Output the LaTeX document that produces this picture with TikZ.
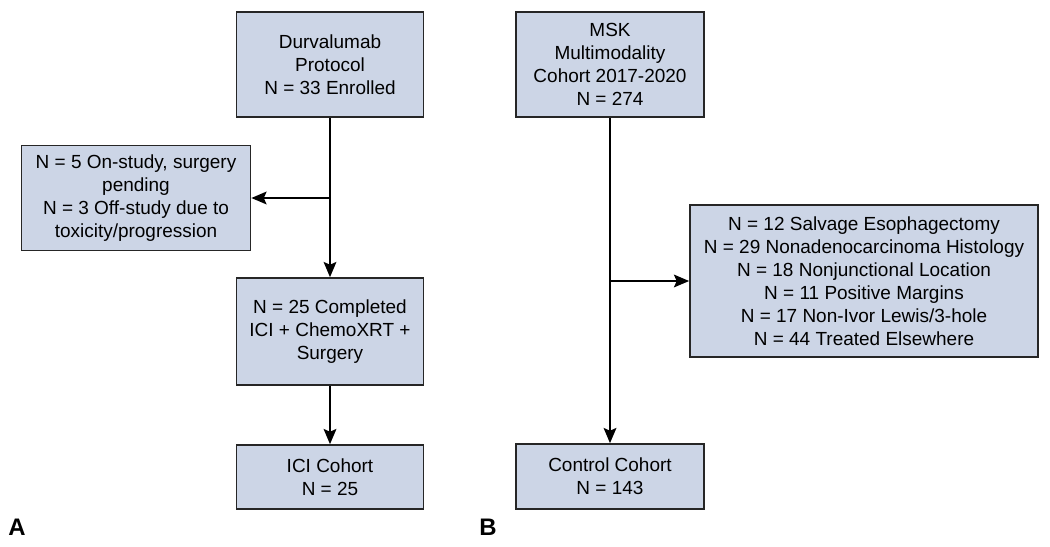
\documentclass[tikz,border=0pt]{standalone}
\usepackage{fontspec}
\setmainfont{Liberation Sans}
\usetikzlibrary{arrows.meta}
\definecolor{boxfill}{RGB}{204,213,230}
\begin{document}
\begin{tikzpicture}[x=0.025cm, y=-0.025cm, line width=1.2pt,
  box/.style={rectangle, draw=black!85, fill=boxfill, inner sep=2pt, align=center,
    font=\fontsize{13.5}{16.4}\selectfont},
  arr/.style={-{Stealth[length=0.38cm, width=0.32cm, inset=0.07cm]}},
  panel/.style={font=\fontsize{17}{20}\selectfont\bfseries}]
\useasboundingbox (0,0) rectangle (1050,546);
% panel A
\node [box, minimum width=4.675cm, minimum height=2.625cm] (1) at (330,64.5) {Durvalumab\\Protocol\\N = 33 Enrolled};
\node [box, minimum width=5.725cm, minimum height=2.625cm] (2) at (136,198) {N = 5 On-study, surgery\\pending\\N = 3 Off-study due to\\toxicity/progression};
\node [box, minimum width=4.675cm, minimum height=2.675cm] (3) at (330,331.5) {N = 25 Completed\\ICI + ChemoXRT +\\Surgery};
\node [box, minimum width=4.675cm, minimum height=1.6cm] (4) at (330,477) {ICI Cohort\\N = 25};
\coordinate (a) at (1.south |- 2.east);
\draw [arr] (1) -- (3);
\draw [arr] (a) -- (2);
\draw [arr] (3) -- (4);
% panel B
\node [box, minimum width=4.7cm, minimum height=2.625cm] (5) at (610,64.5) {MSK\\Multimodality\\Cohort 2017-2020\\N = 274};
\node [box, minimum width=8.7cm, minimum height=3.8cm] (6) at (864,281) {N = 12 Salvage Esophagectomy\\N = 29 Nonadenocarcinoma Histology\\N = 18 Nonjunctional Location\\N = 11 Positive Margins\\N = 17 Non-Ivor Lewis/3-hole\\N = 44 Treated Elsewhere};
\node [box, minimum width=4.7cm, minimum height=1.625cm] (7) at (610,476.5) {Control Cohort\\N = 143};
\coordinate (b) at (5.south |- 6.west);
\draw [arr] (5) -- (7);
\draw [arr] (b) -- (6);
\node [panel] (A) at (17,527.5) {A};
\node [panel] (B) at (488,527.5) {B};
\end{tikzpicture}
\end{document}
